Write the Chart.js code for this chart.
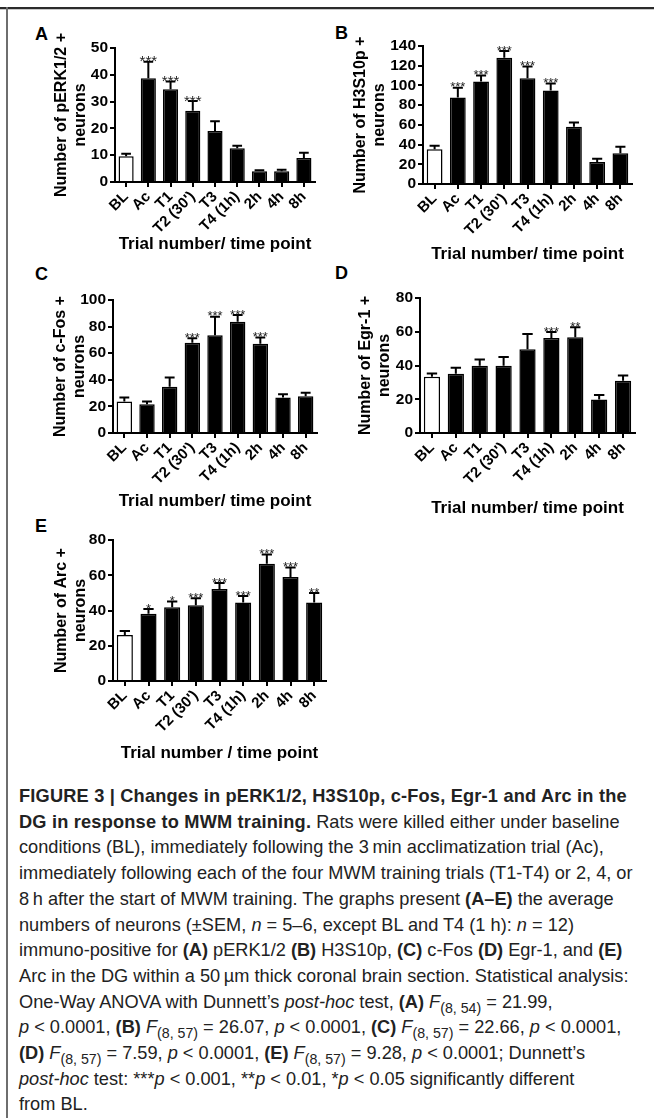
<!DOCTYPE html>
<html>
<head>
<meta charset="utf-8">
<script src="https://cdn.jsdelivr.net/npm/chart.js@4.4.1/dist/chart.umd.min.js"></script>
<style>
  body { margin: 0; background: #fff; width: 654px; height: 1118px; overflow: hidden; position: relative;
         font-family: "Liberation Sans", Arial, sans-serif; }
  .frame-top { position: absolute; left: 0; top: 7px; width: 654px; height: 2px; background: #2b2b2b; }
  .frame-top2 { position: absolute; left: 0; top: 9px; width: 654px; height: 1px; background: #c8c8c8; }
  .frame-left { position: absolute; left: 6px; top: 7px; width: 2px; height: 1111px; background: #6e6e6e; }
  .panel { position: absolute; }
  .letter { position: absolute; font-weight: bold; font-size: 18px; line-height: 18px; color: #000; }
  .caption { position: absolute; left: 19px; top: 784px; font-size: 18.2px; line-height: 25.7px;
             color: #222; white-space: nowrap; }
  .caption .head { letter-spacing: 0.2px; }
  .caption sub { font-size: 0.78em; line-height: 0; vertical-align: -0.35em; }
</style>
</head>
<body>
<div class="frame-top"></div>
<div class="frame-top2"></div>
<div class="frame-left"></div>

<div class="letter" style="left:35px;top:25px">A</div>
<div class="letter" style="left:335px;top:24px">B</div>
<div class="letter" style="left:35px;top:265px">C</div>
<div class="letter" style="left:335px;top:264px">D</div>
<div class="letter" style="left:35px;top:517px">E</div>

<div class="panel" id="pA"><canvas id="chartA"></canvas></div>
<div class="panel" id="pB"><canvas id="chartB"></canvas></div>
<div class="panel" id="pC"><canvas id="chartC"></canvas></div>
<div class="panel" id="pD"><canvas id="chartD"></canvas></div>
<div class="panel" id="pE"><canvas id="chartE"></canvas></div>

<div class="caption">
<b class="head">FIGURE 3 | Changes in pERK1/2, H3S10p, c-Fos, Egr-1 and Arc in the</b><br>
<b class="head">DG in response to MWM training.</b> Rats were killed either under baseline<br>
conditions (BL), immediately following the 3&thinsp;min acclimatization trial (Ac),<br>
immediately following each of the four MWM training trials (T1-T4) or 2, 4, or<br>
8&thinsp;h after the start of MWM training. The graphs present <b>(A–E)</b> the average<br>
numbers of neurons (±SEM, <i>n</i> = 5–6, except BL and T4 (1 h): <i>n</i> = 12)<br>
immuno-positive for <b>(A)</b> pERK1/2 <b>(B)</b> H3S10p, <b>(C)</b> c-Fos <b>(D)</b> Egr-1, and <b>(E)</b><br>
Arc in the DG within a 50&thinsp;µm thick coronal brain section. Statistical analysis:<br>
One-Way ANOVA with Dunnett’s <i>post-hoc</i> test, <b>(A)</b> <i>F</i><sub>(8, 54)</sub> = 21.99,<br>
<i>p</i> &lt; 0.0001, <b>(B)</b> <i>F</i><sub>(8, 57)</sub> = 26.07, <i>p</i> &lt; 0.0001, <b>(C)</b> <i>F</i><sub>(8, 57)</sub> = 22.66, <i>p</i> &lt; 0.0001,<br>
<b>(D)</b> <i>F</i><sub>(8, 57)</sub> = 7.59, <i>p</i> &lt; 0.0001, <b>(E)</b> <i>F</i><sub>(8, 57)</sub> = 9.28, <i>p</i> &lt; 0.0001; Dunnett’s<br>
<i>post-hoc</i> test: ***<i>p</i> &lt; 0.001, **<i>p</i> &lt; 0.01, *<i>p</i> &lt; 0.05 significantly different<br>
from BL.
</div>

<script>
// categories shared by all five panels
const categories = ["BL", "Ac", "T1", "T2 (30')", "T3", "T4 (1h)", "2h", "4h", "8h"];

// A - pERK1/2
const perkMean = [9.6, 38.7, 34.6, 26.6, 19.0, 12.6, 4.0, 4.0, 9.0];
const perkSem = [0.9, 6.2, 2.9, 3.6, 3.7, 0.9, 0.4, 0.6, 1.9];
const perkStars = ["", "***", "***", "***", "", "", "", "", ""];

// B - H3S10p
const h3Mean = [35.3, 87.8, 104, 128.2, 107.4, 94.9, 58.2, 22.2, 31.3];
const h3Sem = [3.4, 9.8, 6.0, 6.7, 11.7, 7.1, 4.1, 3.4, 6.4];
const h3Stars = ["", "***", "***", "***", "***", "***", "", "", ""];

// C - c-Fos
const fosMean = [23.6, 21.6, 34.8, 67.8, 73.5, 83.7, 67.1, 26.6, 27.6];
const fosSem = [3.0, 2.0, 7.0, 3.5, 14.0, 5.0, 4.7, 2.5, 2.7];
const fosStars = ["", "", "", "***", "***", "***", "***", "", ""];

// D - Egr-1
const egrMean = [33.4, 35.1, 39.8, 39.8, 49.7, 56.3, 56.8, 19.9, 30.9];
const egrSem = [1.8, 3.5, 3.7, 5.2, 9.0, 3.5, 5.8, 2.6, 3.2];
const egrStars = ["", "", "", "", "", "***", "**", "", ""];

// E - Arc
const arcMean = [26.1, 38.1, 41.9, 43.0, 52.2, 44.6, 66.5, 59.0, 44.6];
const arcSem = [2.3, 2.7, 3.2, 4.0, 3.4, 3.6, 5.3, 5.4, 5.3];
const arcStars = ["", "*", "*", "***", "***", "***", "***", "***", "**"];

// y axis tick settings
const yMaxList = [50, 140, 100, 80, 80];
const yStepList = [10, 20, 20, 20, 20];

const FONT = "'Liberation Sans', Arial, sans-serif";

// draws the SEM whiskers (up only) and the significance stars
const errBarPlugin = {
  id: "errBars",
  afterDatasetsDraw(chart, args, opts) {
    const { ctx } = chart;
    const yScale = chart.scales.y;
    const bars = chart.getDatasetMeta(0).data;
    const means = chart.data.datasets[0].data;
    ctx.save();
    ctx.strokeStyle = "#000";
    ctx.lineWidth = 2;
    bars.forEach((bar, i) => {
      const yTop = yScale.getPixelForValue(means[i] + opts.sem[i]);
      const yBar = yScale.getPixelForValue(means[i]);
      const cap = bar.width * 0.32;
      ctx.beginPath();
      ctx.moveTo(bar.x, yBar);
      ctx.lineTo(bar.x, yTop);
      ctx.moveTo(bar.x - cap, yTop);
      ctx.lineTo(bar.x + cap, yTop);
      ctx.stroke();
      if (opts.stars[i]) {
        ctx.fillStyle = "#222";
        ctx.font = opts.starSize + "px " + FONT;
        ctx.textAlign = "center";
        ctx.textBaseline = "alphabetic";
        ctx.fillText(opts.stars[i], bar.x, yTop - 2 + 0.43 * opts.starSize);
      }
    });
    ctx.restore();
  }
};

function drawPanel(wrapId, canvasId, box, mean, sem, stars, yMax, yStep, yTitle, xTitle, starSize) {
  const wrap = document.getElementById(wrapId);
  wrap.style.left = box.left + "px";
  wrap.style.top = box.top + "px";
  const cv = document.getElementById(canvasId);
  cv.width = box.right - box.left;
  cv.height = box.bottom - box.top;
  cv.style.width = cv.width + "px";
  cv.style.height = cv.height + "px";

  new Chart(cv, {
    type: "bar",
    data: {
      labels: categories,
      datasets: [{
        data: mean,
        backgroundColor: mean.map((v, i) => (i === 0 ? "#fff" : "#000")),
        borderColor: "#000",
        borderWidth: 1.5,
        barPercentage: 0.68,
        categoryPercentage: 1
      }]
    },
    options: {
      responsive: false,
      animation: false,
      events: [],
      layout: { padding: { top: box.aT - box.top, right: box.right - box.aR, left: 0, bottom: 0 } },
      plugins: {
        legend: { display: false },
        tooltip: { enabled: false },
        errBars: { sem: sem, stars: stars, starSize: starSize }
      },
      scales: {
        x: {
          grid: { display: true, offset: false, drawOnChartArea: false, drawTicks: true, tickLength: 5, color: "#000", lineWidth: 2 },
          border: { display: true, color: "#000", width: 2 },
          ticks: { color: "#000", font: { family: FONT, weight: "bold", size: 15 }, minRotation: 45, maxRotation: 45, padding: 1, autoSkip: false },
          title: { display: true, text: xTitle, color: "#000", font: { family: FONT, weight: "bold", size: 17 }, padding: 0 },
          afterFit: (s) => { s.height = box.bottom - box.aB; }
        },
        y: {
          min: 0,
          max: yMax,
          ticks: { stepSize: yStep, autoSkip: false, color: "#000", font: { family: FONT, weight: "bold", size: 15.5 }, padding: 2 },
          grid: { drawOnChartArea: false, drawTicks: true, tickLength: 5, color: "#000", lineWidth: 2 },
          border: { display: true, color: "#000", width: 2 },
          title: { display: true, text: yTitle, color: "#000", font: { family: FONT, weight: "bold", size: 16, lineHeight: 1.2 }, padding: 0 },
          afterFit: (s) => { s.width = box.aL - box.left; }
        }
      }
    },
    plugins: [errBarPlugin]
  });
}

drawPanel("pA", "chartA", { left: 52, top: 20, right: 320, bottom: 255, aL: 115, aT: 48, aR: 315, aB: 182 },
  perkMean, perkSem, perkStars, yMaxList[0], yStepList[0], ["Number of pERK1/2 +", "neurons"], "Trial number/ time point", 15);
drawPanel("pB", "chartB", { left: 351, top: 20, right: 640, bottom: 265, aL: 423, aT: 46, aR: 632, aB: 184 },
  h3Mean, h3Sem, h3Stars, yMaxList[1], yStepList[1], ["Number of H3S10p +", "neurons"], "Trial number/ time point", 13);
drawPanel("pC", "chartC", { left: 51, top: 270, right: 322, bottom: 512, aL: 113, aT: 300, aR: 317, aB: 433 },
  fosMean, fosSem, fosStars, yMaxList[2], yStepList[2], ["Number of c-Fos +", "neurons"], "Trial number/ time point", 13);
drawPanel("pD", "chartD", { left: 356, top: 270, right: 642, bottom: 519, aL: 420, aT: 298, aR: 635, aB: 433 },
  egrMean, egrSem, egrStars, yMaxList[3], yStepList[3], ["Number of Egr-1 +", "neurons"], "Trial number/ time point", 13);
drawPanel("pE", "chartE", { left: 52, top: 515, right: 332, bottom: 764, aL: 113, aT: 540, aR: 326, aB: 681 },
  arcMean, arcSem, arcStars, yMaxList[4], yStepList[4], ["Number of Arc +", "neurons"], "Trial number / time point", 13);
</script>
</body>
</html>
